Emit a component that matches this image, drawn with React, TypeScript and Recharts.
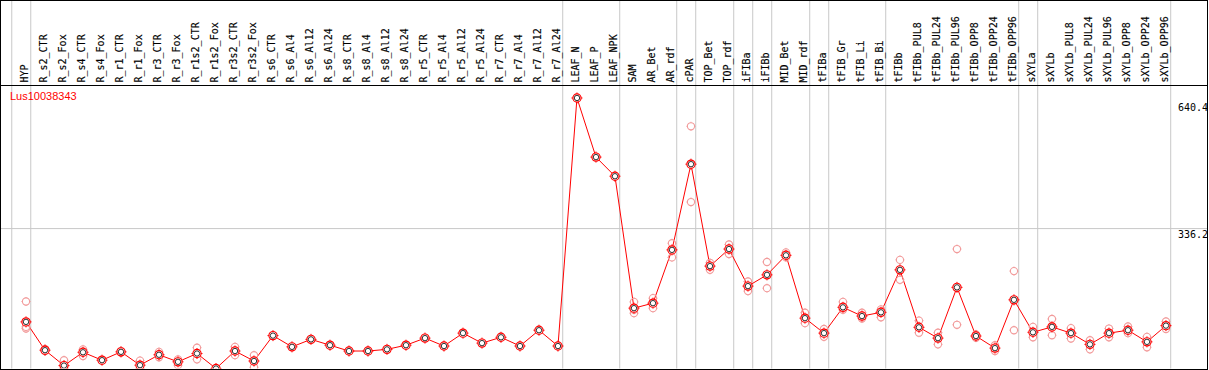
import { ComposedChart, Line, Scatter, XAxis, YAxis, ReferenceLine } from "recharts";

const GENE = "Lus10038343";

const CATEGORIES = [
  "HYP", "R_s2_CTR", "R_s2_Fox", "R_s4_CTR", "R_s4_Fox", "R_r1_CTR", "R_r1_Fox",
  "R_r3_CTR", "R_r3_Fox", "R_r1s2_CTR", "R_r1s2_Fox", "R_r3s2_CTR", "R_r3s2_Fox",
  "R_s6_CTR", "R_s6_Al4", "R_s6_Al12", "R_s6_Al24", "R_s8_CTR", "R_s8_Al4",
  "R_s8_Al12", "R_s8_Al24", "R_r5_CTR", "R_r5_Al4", "R_r5_Al12", "R_r5_Al24",
  "R_r7_CTR", "R_r7_Al4", "R_r7_Al12", "R_r7_Al24", "LEAF_N", "LEAF_P", "LEAF_NPK",
  "SAM", "AR_Bet", "AR_rdf", "cPAR", "TOP_Bet", "TOP_rdf", "iFIBa", "iFIBb",
  "MID_Bet", "MID_rdf", "tFIBa", "tFIB_Gr", "tFIB_Li", "tFIB_Bi", "tFIBb",
  "tFIBb_PUL8", "tFIBb_PUL24", "tFIBb_PUL96", "tFIBb_OPP8", "tFIBb_OPP24",
  "tFIBb_OPP96", "sXYLa", "sXYLb", "sXYLb_PUL8", "sXYLb_PUL24", "sXYLb_PUL96",
  "sXYLb_OPP8", "sXYLb_OPP24", "sXYLb_OPP96",
];

// mean expression per sample
const MEANS = [
  112, 44, 7, 39, 20, 40, 8, 33, 16, 36, 0, 42, 18,
  79, 52, 70, 56, 42, 42, 46, 56, 73, 54, 85, 61, 75, 54, 92, 54,
  650, 508, 462,
  145, 157, 285, 491, 246, 287, 198, 225, 272, 121, 85, 147, 126, 135,
  237, 99, 73, 195, 78, 49, 165,
  87, 100, 85, 58, 85, 92, 64, 103,
];

// individual replicates (empty where none shown)
const REPLICATES: number[][] = [
  [161, 100, 96], [47, 42], [20, 0], [46, 30], [], [42, 38], [19, 0],
  [40, 27], [22, 8], [50, 22], [], [52, 32], [32, 3],
  [], [], [], [], [], [], [], [], [], [], [], [], [], [], [], [],
  [], [], [],
  [160, 141, 133], [169, 145], [301, 267], [582, 400], [254, 237], [298, 275],
  [209, 186], [256, 193], [279, 267], [134, 109], [95, 76], [160, 141],
  [134, 120], [142, 123],
  [261, 213], [115, 86], [86, 58], [287, 105], [82, 74], [56, 42], [234, 92],
  [100, 75], [119, 80], [97, 72], [68, 46], [96, 75], [101, 85], [76, 51], [113, 95],
];

// last sample index of each group (separator drawn just after it)
const GROUP_ENDS = [-1, 0, 28, 31, 34, 35, 37, 38, 39, 41, 42, 45, 52, 53, 60];

const Y_TICKS = [0, 336.2, 640.4];
const GRID_Y = [336.2];
const Y_MAX = 680;

const meanData = MEANS.map((v, i) => ({ idx: i, v }));
const repData = REPLICATES.flatMap((reps, i) => reps.map((v) => ({ idx: i, v })));
const tickIdx = CATEGORIES.map((_, i) => i);

function MeanDot(props: any) {
  const { cx, cy } = props;
  if (cx == null || cy == null) return null;
  return (
    <g>
      <path
        d={`M${cx - 5.5},${cy}h1.5M${cx + 4},${cy}h1.5M${cx},${cy - 5.5}v1.5M${cx},${cy + 4}v1.5`}
        stroke="#ff0000"
        strokeWidth={1}
      />
      <circle cx={cx} cy={cy} r={4.1} fill="#fff" stroke="#ff0000" strokeWidth={1.2} />
      <circle cx={cx} cy={cy} r={2.7} fill="none" stroke="#000" strokeWidth={0.8} />
    </g>
  );
}

function RepDot(props: any) {
  const { cx, cy } = props;
  if (cx == null || cy == null) return null;
  return (
    <g>
      <path
        d={`M${cx - 4.5},${cy}h1M${cx + 3.5},${cy}h1M${cx},${cy - 4.5}v1M${cx},${cy + 3.5}v1`}
        stroke="#f29b9b"
      />
      <circle cx={cx} cy={cy} r={3.6} fill="none" stroke="#f29b9b" strokeWidth={1.1} />
    </g>
  );
}

function HeaderTick(props: any) {
  const { x, y, payload } = props;
  return (
    <text
      x={0}
      y={0}
      transform={`translate(${x + 2},${y - 1}) rotate(-90)`}
      fontFamily="DejaVu Sans Mono"
      fontSize={10}
      fill="#000"
      stroke="#000"
      strokeWidth={0.15}
      textAnchor="start"
    >
      {CATEGORIES[payload.value]}
    </text>
  );
}

function ValueTick(props: any) {
  const { x, y, payload } = props;
  return (
    <text
      x={x - 29}
      y={Math.min(y + 9, 366)}
      fontFamily="DejaVu Sans Mono"
      fontSize={10}
      fill="#000"
      textAnchor="start"
    >
      {payload.value}
    </text>
  );
}

export default function App() {
  const headerTop = Y_MAX * 1.4;
  return (
    <div style={{ position: "relative", width: 1209, height: 370 }}>
      <style>{`body{margin:0}`}</style>
      <ComposedChart width={1209} height={370} margin={{ top: 0, right: 2, bottom: 1.5, left: 1 }}>
        <XAxis
          type="number"
          dataKey="idx"
          orientation="top"
          domain={[-1.316, 62.16]}
          ticks={tickIdx}
          interval={0}
          height={85.5}
          tickSize={0}
          tickMargin={2}
          tickLine={false}
          axisLine={{ stroke: "#000" }}
          tick={<HeaderTick />}
          allowDataOverflow
        />
        <YAxis
          type="number"
          dataKey="v"
          orientation="right"
          mirror
          domain={[0, Y_MAX]}
          ticks={Y_TICKS}
          tickSize={0}
          tickMargin={0}
          tickLine={false}
          axisLine={false}
          tick={<ValueTick />}
          allowDataOverflow
        />
        {GRID_Y.map((v) => (
          <ReferenceLine key={`h${v}`} y={v} stroke="#c8c8c8" />
        ))}
        {GROUP_ENDS.map((g) => (
          <ReferenceLine
            key={`g${g}`}
            segment={[{ x: g + 0.25, y: 0 }, { x: g + 0.25, y: headerTop }]}
            stroke="#c8c8c8"
            ifOverflow="visible"
          />
        ))}
        <Scatter data={repData} dataKey="v" shape={(p: any) => <RepDot {...p} />} isAnimationActive={false} />
        <Line
          data={meanData}
          dataKey="v"
          type="linear"
          stroke="#ff0000"
          strokeWidth={1}
          dot={(p: any) => <MeanDot key={p.index} {...p} />}
          activeDot={false}
          isAnimationActive={false}
        />
      </ComposedChart>
      <div
        style={{
          position: "absolute",
          left: 10,
          top: 90,
          fontFamily: "Liberation Sans, Arial, sans-serif",
          fontSize: 11,
          color: "#ff0000",
          lineHeight: "13px",
        }}
      >
        {GENE}
      </div>
      <div
        style={{
          position: "absolute",
          left: 0,
          top: 0,
          width: 1208,
          height: 370,
          border: "1px solid #000",
          boxSizing: "border-box",
          pointerEvents: "none",
        }}
      />
    </div>
  );
}
